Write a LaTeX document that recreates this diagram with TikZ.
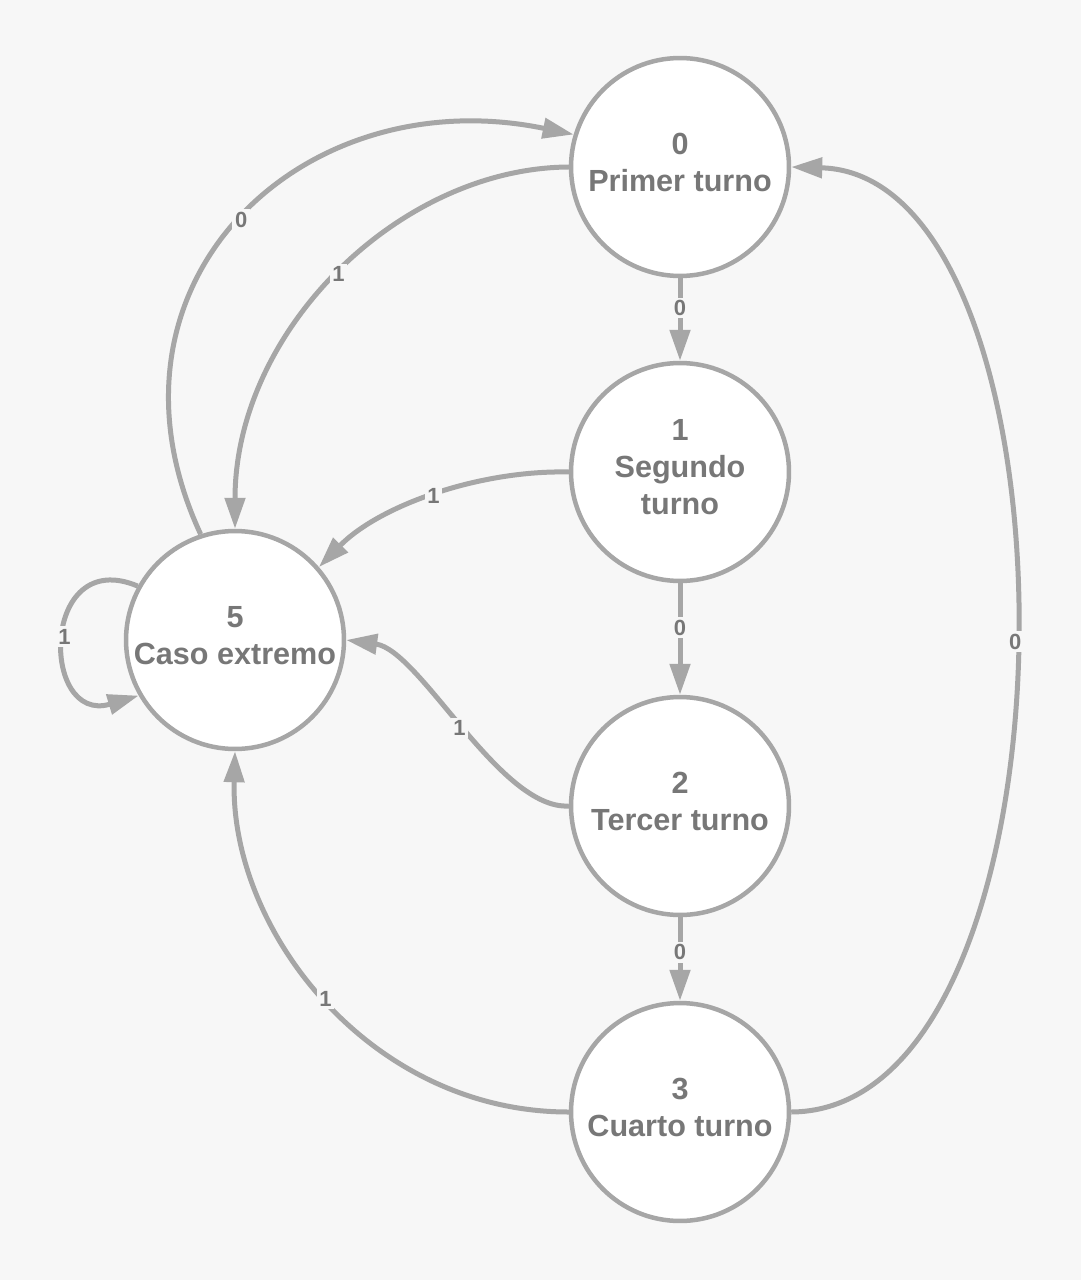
\documentclass[tikz,border=0pt]{standalone}
\usepackage{fontspec}
\setmainfont{Liberation Sans}
\usetikzlibrary{arrows.meta}
\definecolor{bgcol}{HTML}{F7F7F7}
\definecolor{edgecol}{HTML}{A6A6A6}
\definecolor{txtcol}{HTML}{777777}
% state text, lifted a little above the centre
\newcommand{\stext}[1]{\raisebox{0.03cm}[\height][\depth]{\begin{tabular}{@{}c@{}}#1\end{tabular}}}
\begin{document}
\begin{tikzpicture}[x=0.02cm,y=-0.02cm,
  state/.style={circle,draw=edgecol,line width=0.09cm,fill=white,minimum size=4.36cm,
    inner sep=0pt,text=txtcol,font=\fontsize{17.4}{21}\selectfont\bfseries},
  trans/.style={draw=edgecol,line width=0.1cm,-{Triangle[length=0.62cm,width=0.4cm]}},
  lbl/.style={fill=bgcol,text=txtcol,inner sep=1.5pt,font=\fontsize{12.5}{14}\selectfont\bfseries}]
\fill[bgcol] (0,0) rectangle (1081,1280);
\useasboundingbox (0,0) rectangle (1081,1280);
% states
\node[state] (s0) at (680,167) {\stext{0\\Primer turno}};
\node[state] (s1) at (680,472) {\stext{1\\Segundo\\turno}};
\node[state] (s2) at (680,806) {\stext{2\\Tercer turno}};
\node[state] (s3) at (680,1112) {\stext{3\\Cuarto turno}};
\node[state] (s5) at (235,640) {\stext{5\\Caso extremo}};
%
% chain down the right
\draw[trans] (s0) -- node[lbl,pos=0.36] {0} (s1);
\draw[trans] (s1) -- node[lbl,pos=0.4] {0} (s2);
\draw[trans] (s2) -- node[lbl,pos=0.42] {0} (s3);
%
% back to 5
\draw[trans] (s5.108) .. controls (85,285) and (300,78) .. node[lbl] {0} (s0.163);
\draw[trans] (s0.west) .. controls (400,168) and (235,330) .. node[lbl] {1} (s5.north);
\draw[trans] (s1.west) .. controls (480,470) and (380,505) .. node[lbl] {1} (s5.41);
\draw[trans] (s2.west) .. controls (500,810) and (420,650) .. node[lbl] {1} (s5.east);
\draw[trans] (s3.west) .. controls (370,1112) and (230,930) .. node[lbl] {1} (s5.south);
\draw[trans] (s3.east) .. controls (1090,1110) and (1090,175) .. node[lbl] {0} (s0.east);
\draw[trans] (s5.151) .. controls (40,545) and (40,725) .. node[lbl] {1} (s5.210);
\end{tikzpicture}
\end{document}
